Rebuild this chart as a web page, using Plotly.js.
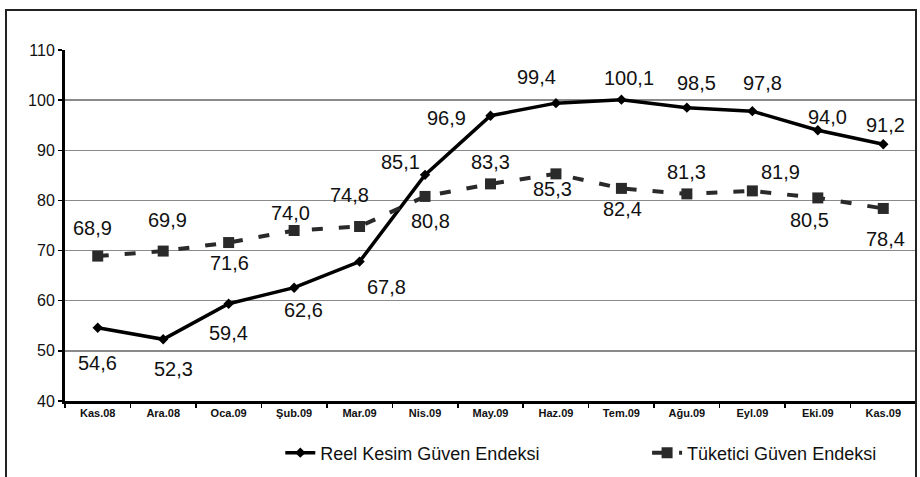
<!DOCTYPE html>
<html>
<head>
<meta charset="utf-8">
<script src="https://cdn.plot.ly/plotly-3.0.1.min.js"></script>
<style>
html,body{margin:0;padding:0;background:#fff;}
#frame{position:absolute;left:5px;top:9px;width:912px;height:480px;border:2px solid #222;box-sizing:border-box;pointer-events:none;z-index:5;}
#chart{position:absolute;left:0;top:0;width:920px;height:477px;}
</style>
</head>
<body>
<div id="chart"></div>
<div id="frame"></div>
<script>
// Data
const months = ["Kas.08","Ara.08","Oca.09","Şub.09","Mar.09","Nis.09","May.09","Haz.09","Tem.09","Ağu.09","Eyl.09","Eki.09","Kas.09"];
const reelKesim = [54.6, 52.3, 59.4, 62.6, 67.8, 85.1, 96.9, 99.4, 100.1, 98.5, 97.8, 94.0, 91.2];
const tuketici = [68.9, 69.9, 71.6, 74.0, 74.8, 80.8, 83.3, 85.3, 82.4, 81.3, 81.9, 80.5, 78.4];
const seriesNames = ["Reel Kesim Güven Endeksi", "Tüketici Güven Endeksi"];

// Label offsets (px) – styling only
const reelDx = [0, 10, 0, 9, 27, -25, -44, -19, 8, 10, 10, 10, 2];
const reelDy = [-35, -30, -29, -22, -25, 13, -2, 26, 22, 25, 28, 13, 19];
const tukDx = [-5, 4, 1, -4, -10, 5, 0, -3, 1, 0, 28, -8, 2];
const tukDy = [28, 31, -20, 18, 32, -25, 22, -15, -21, 22, 19, -22, -31];

const fmt = v => v.toFixed(1).replace('.', ',');
const FONT = 'Liberation Sans, Arial';

const traces = [
  {
    x: months, y: reelKesim, name: seriesNames[0], type: 'scatter', mode: 'lines+markers',
    line: {color: '#000', width: 3.5},
    marker: {symbol: 'diamond', size: 8, color: '#000'},
    legend: 'legend'
  },
  {
    x: months, y: tuketici, name: seriesNames[1], type: 'scatter', mode: 'lines+markers',
    line: {color: '#2a2a2a', width: 4, dash: '11px,16px'},
    marker: {symbol: 'square', size: 11, color: '#2a2a2a'},
    legend: 'legend2'
  }
];

const annotations = [];
months.forEach((m, i) => {
  annotations.push({x: m, y: reelKesim[i], text: fmt(reelKesim[i]), showarrow: false,
    xshift: reelDx[i], yshift: reelDy[i], font: {family: FONT, size: 20, color: '#111'}});
  annotations.push({x: m, y: tuketici[i], text: fmt(tuketici[i]), showarrow: false,
    xshift: tukDx[i], yshift: tukDy[i], font: {family: FONT, size: 20, color: '#111'}});
});

const legendBase = {orientation: 'h', xanchor: 'left', y: -0.148, yanchor: 'middle',
  font: {family: FONT, size: 18, color: '#111'}, bgcolor: 'rgba(0,0,0,0)'};

const layout = {
  width: 920, height: 477,
  margin: {l: 65, r: 4, t: 50, b: 76},
  paper_bgcolor: '#fff', plot_bgcolor: '#fff',
  showlegend: true,
  legend: Object.assign({}, legendBase, {x: 0.253}),
  legend2: Object.assign({}, legendBase, {x: 0.684}),
  xaxis: {
    type: 'category', categoryorder: 'array', categoryarray: months,
    showline: true, linecolor: '#000', linewidth: 3,
    ticks: 'outside', tickson: 'boundaries', ticklen: 4, tickcolor: '#000', tickwidth: 1.5,
    tickfont: {family: FONT, size: 11, color: '#111', weight: 'bold'},
    showgrid: false, zeroline: false, range: [-0.5, 12.5]
  },
  yaxis: {
    range: [40, 110], dtick: 10, tick0: 40,
    showline: true, linecolor: '#000', linewidth: 3,
    ticks: 'outside', ticklen: 4, tickcolor: '#000', tickwidth: 1.5,
    tickfont: {family: FONT, size: 16, color: '#111'},
    showgrid: true, gridcolor: '#8a8a8a', gridwidth: 1.3, zeroline: false
  },
  annotations: annotations
};

Plotly.newPlot('chart', traces, layout, {displayModeBar: false, staticPlot: true});
</script>
</body>
</html>
